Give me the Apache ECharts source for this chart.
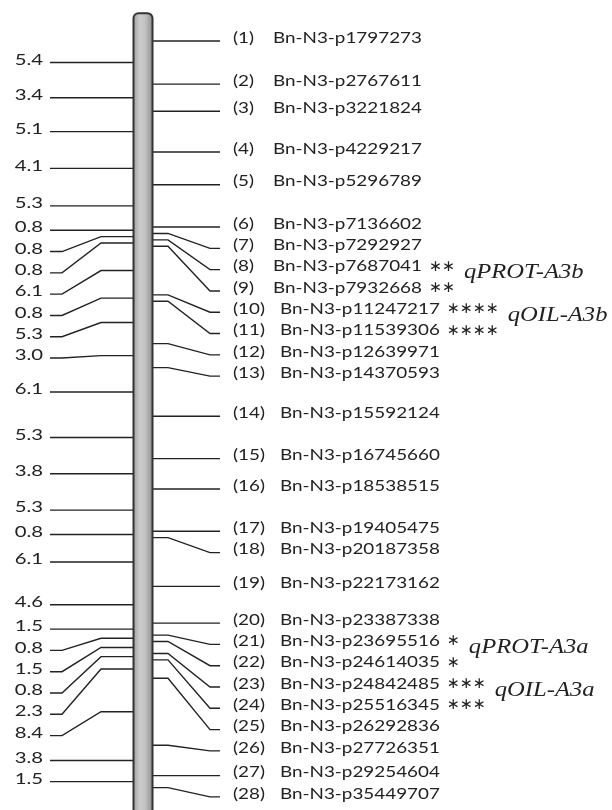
<!DOCTYPE html>
<html><head><meta charset="utf-8">
<script src="https://cdn.jsdelivr.net/npm/echarts@6.0.0/dist/echarts.min.js"></script>
<style>html,body{margin:0;padding:0;background:#fff}#c{width:612px;height:810px}</style>
</head><body><div id="c"></div>
<script>
// ---------- DATA ----------
const markerNames = [
  'Bn-N3-p1797273','Bn-N3-p2767611','Bn-N3-p3221824','Bn-N3-p4229217','Bn-N3-p5296789',
  'Bn-N3-p7136602','Bn-N3-p7292927','Bn-N3-p7687041','Bn-N3-p7932668','Bn-N3-p11247217',
  'Bn-N3-p11539306','Bn-N3-p12639971','Bn-N3-p14370593','Bn-N3-p15592124','Bn-N3-p16745660',
  'Bn-N3-p18538515','Bn-N3-p19405475','Bn-N3-p20187358','Bn-N3-p22173162','Bn-N3-p23387338',
  'Bn-N3-p23695516','Bn-N3-p24614035','Bn-N3-p24842485','Bn-N3-p25516345','Bn-N3-p26292836',
  'Bn-N3-p27726351','Bn-N3-p29254604','Bn-N3-p35449707'
];
// genetic distance (cM) between consecutive markers
const intervals = [5.4,3.4,5.1,4.1,5.3,0.8,0.8,0.8,6.1,0.8,5.3,3.0,6.1,5.3,3.8,5.3,0.8,6.1,4.6,1.5,0.8,1.5,0.8,2.3,8.4,3.8,1.5];
// significance stars per marker
const significance = ['','','','','','','','**','**','****','****','','','','','','','','','','*','*','***','***','','','',''];
// QTL names and the marker rows (1-based) they cover
const qtlNames = ['qPROT-A3b','qOIL-A3b','qPROT-A3a','qOIL-A3a'];
const qtlRows = [[8,9],[10,11],[21,22],[23,24]];

// ---------- LAYOUT ----------
const L = {
  pxPerCM: 7.985, topPx: 41,
  labelGapPx: 21.3,
  barX: 133.5, barW: 19, barTopCM: -3.47,
  rBar: 153, rBend1: 168, rBend2: 210, rEnd: 220,
  lBar: 133, lBend1: 101, lBend2: 62, lEnd: 50,
  idxX: 233, nameOff1: 40, nameOff2: 47,
  leftTextX: 43,
  font: '14.5px Lato', sx: 1.3, leftSx: 1.4, textDy: -3, leftDy: -2.5,
  starFont: '15.5px "DejaVu Sans"', starGap: 7, starDy: -3,
  qtlFont: 'italic 21px "Liberation Serif"', qtlSx: 1.17, qtlGap: 9, qtlDy: 3,
  ink: '#222'
};

// cumulative marker positions
const positions = [0];
intervals.forEach((d, i) => positions.push(Math.round((positions[i] + d) * 10) / 10));
const mids = intervals.map((d, i) => (positions[i] + positions[i + 1]) / 2);

function spread(vals, gap) {
  const out = [];
  vals.forEach((v, i) => out.push(i === 0 ? v : Math.max(v, out[i - 1] + gap)));
  return out;
}
const gapCM = L.labelGapPx / L.pxPerCM;
const rightLabelPos = spread(positions, gapCM);
const leftLabelPos = spread(mids, gapCM);

const mctx = document.createElement('canvas').getContext('2d');
function tw(t, font) { mctx.font = font; return mctx.measureText(t).width; }
function nameX(i) { return L.idxX + (i < 9 ? L.nameOff1 : L.nameOff2); }
function starText(s) { return s.replace(/\*/g, '\u2217'); }
function starStart(i) { return nameX(i) + tw(markerNames[i], L.font) * L.sx + L.starGap; }
function starEnd(i) { return starStart(i) + tw(starText(significance[i]), L.starFont); }

const yMin = -L.topPx / L.pxPerCM;
const yMax = (810 - L.topPx) / L.pxPerCM;

function linePts(y0, y1, a, b, c, d) {
  if (Math.abs(y1 - y0) < 0.6) return [[a, y0], [d, y0]];
  return [[a, y0], [b, y0], [c, y1], [d, y1]];
}

const chart = echarts.init(document.getElementById('c'), null, { renderer: 'canvas' });
chart.setOption({
  animation: false,
  grid: { left: 0, right: 0, top: 0, bottom: 0 },
  xAxis: { type: 'value', min: 0, max: 1, show: false },
  yAxis: { type: 'value', inverse: true, min: yMin, max: yMax, show: false },
  series: [
    { // right connectors + marker labels
      type: 'custom', z: 2,
      data: positions.map((p, i) => [0, p, rightLabelPos[i]]),
      renderItem(params, api) {
        const i = params.dataIndex;
        const y0 = api.coord([0, api.value(1)])[1];
        const y1 = api.coord([0, api.value(2)])[1];
        const ch = [
          { type: 'polyline', shape: { points: linePts(y0, y1, L.rBar, L.rBend1, L.rBend2, L.rEnd) },
            style: { stroke: L.ink, lineWidth: 1.4, fill: 'none' } },
          { type: 'text', x: L.idxX, y: y1 + L.textDy, scaleX: L.sx,
            style: { text: '(' + (i + 1) + ')', font: L.font, fill: L.ink, align: 'left', verticalAlign: 'middle' } },
          { type: 'text', x: nameX(i), y: y1 + L.textDy, scaleX: L.sx,
            style: { text: markerNames[i], font: L.font, fill: L.ink, align: 'left', verticalAlign: 'middle' } }
        ];
        if (significance[i]) {
          ch.push({ type: 'text', x: starStart(i), y: y1 + L.starDy,
            style: { text: starText(significance[i]), font: L.starFont, fill: L.ink, align: 'left', verticalAlign: 'middle' } });
        }
        return { type: 'group', children: ch };
      }
    },
    { // left connectors + interval labels
      type: 'custom', z: 2,
      data: mids.map((m, i) => [0, m, leftLabelPos[i]]),
      renderItem(params, api) {
        const i = params.dataIndex;
        const y0 = api.coord([0, api.value(1)])[1];
        const y1 = api.coord([0, api.value(2)])[1];
        return { type: 'group', children: [
          { type: 'polyline', shape: { points: linePts(y0, y1, L.lBar, L.lBend1, L.lBend2, L.lEnd) },
            style: { stroke: L.ink, lineWidth: 1.4, fill: 'none' } },
          { type: 'text', x: L.leftTextX, y: y1 + L.leftDy, scaleX: L.leftSx,
            style: { text: intervals[i].toFixed(1), font: L.font, fill: L.ink, align: 'right', verticalAlign: 'middle' } }
        ]};
      }
    },
    { // QTL names
      type: 'custom', z: 3,
      data: qtlRows.map(r => [0, rightLabelPos[r[0] - 1]]),
      renderItem(params, api) {
        const q = params.dataIndex;
        const y = api.coord([0, api.value(1)])[1] + L.qtlDy;
        const x = Math.max(...qtlRows[q].map(r => starEnd(r - 1))) + L.qtlGap;
        return { type: 'text', x: x, y: y, scaleX: L.qtlSx,
          style: { text: qtlNames[q], font: L.qtlFont, fill: L.ink, align: 'left', verticalAlign: 'middle' } };
      }
    },
    { // chromosome bar
      type: 'custom', z: 5,
      data: [[0, L.barTopCM, yMax + 3]],
      renderItem(params, api) {
        const yt = api.coord([0, api.value(1)])[1];
        const yb = api.coord([0, api.value(2)])[1];
        return { type: 'rect', shape: { x: L.barX, y: yt, width: L.barW, height: yb - yt, r: [5, 5, 0, 0] },
          style: { stroke: '#333', lineWidth: 2,
            fill: new echarts.graphic.LinearGradient(0, 0, 1, 0, [
              { offset: 0, color: '#9a9a9a' }, { offset: 0.35, color: '#cbcbcb' },
              { offset: 0.6, color: '#c2c2c2' }, { offset: 1, color: '#8a8a8a' }]) } };
      }
    }
  ]
});
</script></body></html>
